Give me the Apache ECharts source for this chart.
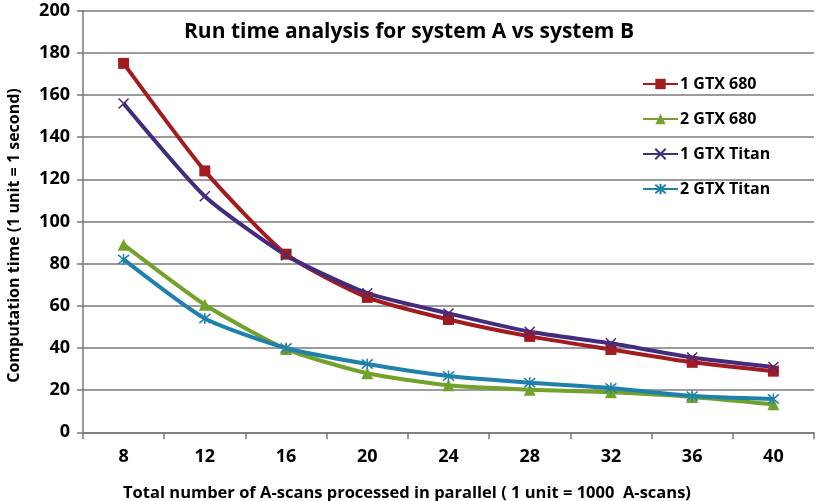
<!DOCTYPE html>
<html>
<head>
<meta charset="utf-8">
<script src="https://cdn.jsdelivr.net/npm/echarts@6/dist/echarts.min.js"></script>
<style>html,body{margin:0;padding:0;background:#fff}#c{width:817px;height:501px}</style>
</head>
<body>
<div id="c"></div>
<script>
const categories = ['8', '12', '16', '20', '24', '28', '32', '36', '40'];
const gtx680x1 = [175, 124, 84.5, 64, 53.5, 45.5, 39.3, 33.2, 29];
const gtx680x2 = [89, 60.5, 39.5, 28, 22.3, 20.2, 19, 16.8, 13.3];
const titanx1 = [156, 112, 84, 66, 56.4, 47.7, 42.2, 35.5, 31];
const titanx2 = [82, 54, 40, 32.4, 26.7, 23.5, 21, 17.2, 15.8];
const yTicks = [0, 20, 40, 60, 80, 100, 120, 140, 160, 180, 200];

const font = '"Open Sans", "Noto Sans", sans-serif';
const chart = echarts.init(document.getElementById('c'));
const crossPath = 'path://M0,0L10,10M10,0L0,10';
const starPath = 'path://M0,0L10,10M10,0L0,10M5,-1L5,11';

function mk(name, data, color, symbol, size) {
  return {
    name: name, type: 'line', data: data, smooth: 0.2,
    symbol: symbol, symbolSize: size,
    lineStyle: { color: color, width: 4 },
    itemStyle: { color: color, borderColor: color, borderWidth: symbol.startsWith('path') ? 1.5 : 0 },
    emphasis: { disabled: true }
  };
}

chart.setOption({
  animation: false,
  backgroundColor: '#fff',
  title: [
    { text: 'Run time analysis for system A vs system B', left: 404, top: 17, textAlign: 'center',
      textStyle: { fontFamily: font, fontSize: 21, fontWeight: 'bold', color: '#000' } },
    { text: 'Total number of A-scans processed in parallel ( 1 unit = 1000  A-scans)', left: 402, top: 480, textAlign: 'center',
      textStyle: { fontFamily: font, fontSize: 16.5, fontWeight: 'bold', color: '#000' } }
  ],
  legend: {
    orient: 'vertical', left: 637, top: 71, itemGap: 19, itemWidth: 35, itemHeight: 13,
    textStyle: { fontFamily: font, fontSize: 16, fontWeight: 'bold', color: '#000', padding: [0, 0, 0, -3] },
    data: ['1 GTX 680', '2 GTX 680', '1 GTX Titan', '2 GTX Titan']
  },
  grid: { left: 83, right: 3, top: 10.7, bottom: 68.7, containLabel: false, outerBoundsMode: 'none' },
  xAxis: {
    type: 'category', data: categories, boundaryGap: true,
    axisLine: { lineStyle: { color: '#7a7a7a', width: 1.5 } },
    axisTick: { show: true, length: 7, lineStyle: { color: '#7a7a7a', width: 1.5 } },
    axisLabel: { fontFamily: font, fontSize: 18, fontWeight: 'bold', color: '#000', margin: 16 }
  },
  yAxis: {
    type: 'value', min: yTicks[0], max: yTicks[yTicks.length - 1], interval: 20,
    name: 'Computation time (1 unit = 1 second)', nameLocation: 'middle', nameGap: 61,
    nameTextStyle: { fontFamily: font, fontSize: 16, fontWeight: 'bold', color: '#000', padding: [0, 28, 0, 0] },
    axisLine: { show: true, lineStyle: { color: '#7a7a7a', width: 1.5 } },
    axisTick: { show: true, length: 6, lineStyle: { color: '#7a7a7a', width: 1.5 } },
    splitLine: { lineStyle: { color: '#7a7a7a', width: 1.5 } },
    axisLabel: { fontFamily: font, fontSize: 18, fontWeight: 'bold', color: '#000', margin: 13 }
  },
  series: [
    mk('1 GTX 680', gtx680x1, '#A21C1F', 'rect', 11),
    mk('2 GTX 680', gtx680x2, '#73A22B', 'triangle', 12),
    mk('1 GTX Titan', titanx1, '#432C7F', crossPath, 10),
    mk('2 GTX Titan', titanx2, '#1F80AB', starPath, 11)
  ]
});
</script>
</body>
</html>
